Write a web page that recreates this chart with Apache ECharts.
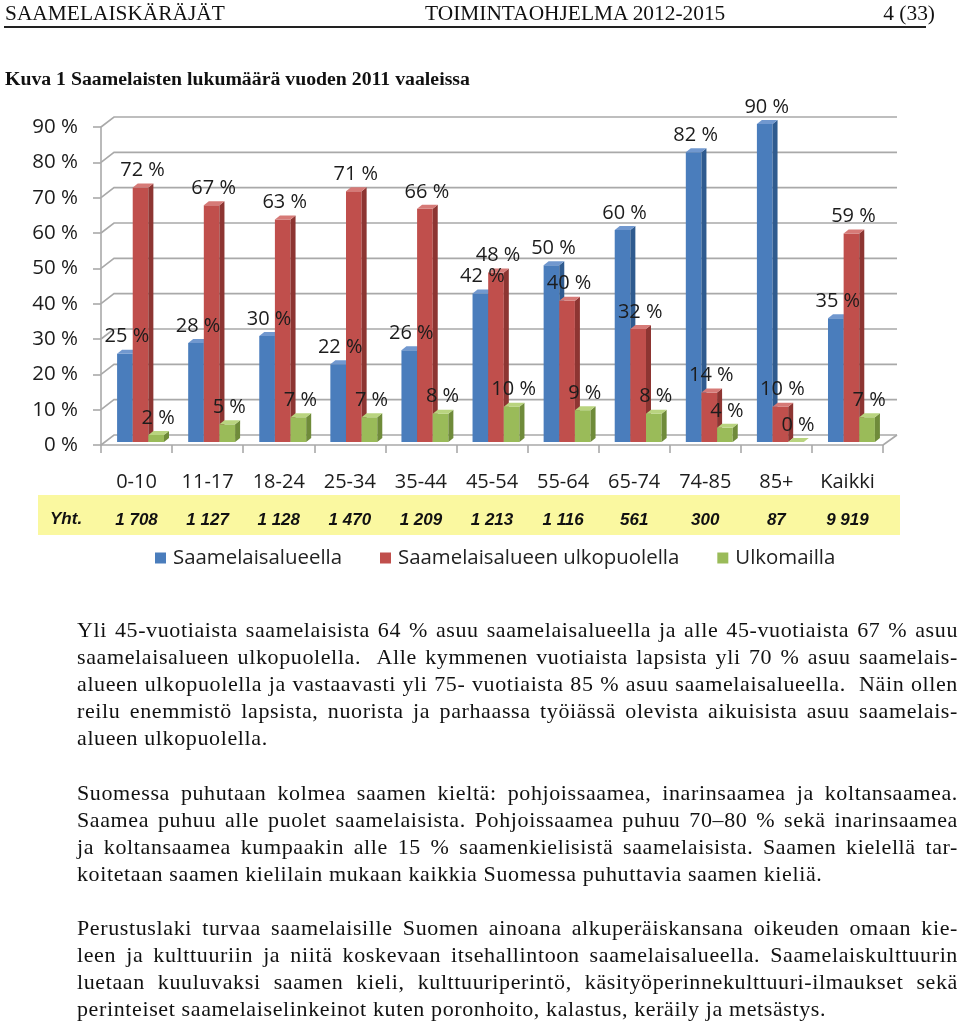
<!DOCTYPE html>
<html>
<head>
<meta charset="utf-8">
<script src="https://cdn.jsdelivr.net/npm/echarts@6/dist/echarts.min.js"></script>
<style>
  html, body { margin: 0; padding: 0; background: #fff; }
  body { width: 960px; height: 1025px; position: relative; overflow: hidden; }
  #chart { position: absolute; left: 0; top: 0; width: 960px; height: 1025px; }
  .t { position: absolute; font-family: "Liberation Serif", "Times New Roman", serif; color: #111; white-space: nowrap; }
  .hdr { font-size: 21.4px; top: 0px; line-height: 26px; }
  .rule { position: absolute; left: 4px; top: 26px; width: 922px; height: 0; border-top: 2px solid #222; }
  .line { position: absolute; left: 77px; width: 881px; height: 27px; line-height: 27px; font-size: 22px; letter-spacing: 0.62px;
          font-family: "Liberation Serif", "Times New Roman", serif; color: #111; text-align: justify; text-align-last: justify; white-space: normal; overflow: visible; }
  .line.last { text-align-last: left; }
</style>
</head>
<body>
<div id="chart"></div>
<div class="t hdr" style="left:5px;">SAAMELAISKÄRÄJÄT</div>
<div class="t hdr" style="left:425px;">TOIMINTAOHJELMA 2012-2015</div>
<div class="t hdr" style="right:25px;">4 (33)</div>
<div class="rule"></div>
<div class="t" style="left:5px; top:66px; font-size:19.8px; font-weight:bold; line-height:24px;">Kuva 1 Saamelaisten lukumäärä vuoden 2011 vaaleissa</div>
<div id="text"></div>
<script>
// ---- data ----
const categories = ['0-10', '11-17', '18-24', '25-34', '35-44', '45-54', '55-64', '65-74', '74-85', '85+', 'Kaikki'];
const totals = ['1 708', '1 127', '1 128', '1 470', '1 209', '1 213', '1 116', '561', '300', '87', '9 919'];
const seriesNames = ['Saamelaisalueella', 'Saamelaisalueen ulkopuolella', 'Ulkomailla'];
const saamelaisalueella = [25, 28, 30, 22, 26, 42, 50, 60, 82, 90, 35];
const ulkopuolella = [72, 67, 63, 71, 66, 48, 40, 32, 14, 10, 59];
const ulkomailla = [2, 5, 7, 7, 8, 10, 9, 8, 4, 0, 7];
const yTicks = [0, 10, 20, 30, 40, 50, 60, 70, 80, 90];

const bodyLines = [
  [629, 'Yli 45-vuotiaista saamelaisista 64 % asuu saamelaisalueella ja alle 45-vuotiaista 67 % asuu', false],
  [656, 'saamelaisalueen ulkopuolella.&nbsp; Alle kymmenen vuotiaista lapsista yli 70 % asuu saamelais-', false],
  [683, 'alueen ulkopuolella ja vastaavasti yli 75- vuotiaista 85 % asuu saamelaisalueella.&nbsp; Näin ollen', false],
  [710, 'reilu enemmistö lapsista, nuorista ja parhaassa työiässä olevista aikuisista asuu saamelais-', false],
  [737, 'alueen ulkopuolella.', true],
  [792, 'Suomessa puhutaan kolmea saamen kieltä: pohjoissaamea, inarinsaamea ja koltansaamea.', false],
  [819, 'Saamea puhuu alle puolet saamelaisista. Pohjoissaamea puhuu 70–80 % sekä inarinsaamea', false],
  [846, 'ja koltansaamea kumpaakin alle 15 % saamenkielisistä saamelaisista. Saamen kielellä tar-', false],
  [873, 'koitetaan saamen kielilain mukaan kaikkia Suomessa puhuttavia saamen kieliä.', true],
  [927, 'Perustuslaki turvaa saamelaisille Suomen ainoana alkuperäiskansana oikeuden omaan kie-', false],
  [954, 'leen ja kulttuuriin ja niitä koskevaan itsehallintoon saamelaisalueella. Saamelaiskulttuurin', false],
  [981, 'luetaan kuuluvaksi saamen kieli, kulttuuriperintö, käsityöperinnekulttuuri-ilmaukset sekä', false],
  [1008, 'perinteiset saamelaiselinkeinot kuten poronhoito, kalastus, keräily ja metsästys.', true]
];
const textBox = document.getElementById('text');
bodyLines.forEach(function (l) {
  const d = document.createElement('div');
  d.className = 'line' + (l[2] ? ' last' : '');
  d.style.top = (l[0] - 13.5) + 'px';
  d.innerHTML = l[1];
  textBox.appendChild(d);
});

// ---- styles ----
const fronts = ['#4a7dbc', '#c04f4c', '#9abb59'];
const sides = ['#2f5b8f', '#8d3532', '#6f8b3a'];
const topsC = ['#7198cf', '#d67a77', '#b9d47f'];
const FONT = '"Open Sans", "Noto Sans", sans-serif';

function barRender(s) {
  return function (params, api) {
    const i = api.value(0), v = api.value(1);
    const band = api.size([1, 0])[0];
    const bw = band * 0.22;
    const c = api.coord([i, v]);
    const b = api.coord([i, 0]);
    const x0 = c[0] + 4 - 1.5 * bw + s * bw;
    const top = c[1] - 3, base = b[1] - 3;
    const dx = 5, dy = 4;
    const children = [
      { type: 'rect', shape: { x: x0, y: top, width: bw, height: base - top }, style: { fill: fronts[s] } },
      { type: 'polygon', shape: { points: [[x0 + bw, top], [x0 + bw + dx, top - dy], [x0 + bw + dx, base - dy], [x0 + bw, base]] }, style: { fill: sides[s] } },
      { type: 'polygon', shape: { points: [[x0, top], [x0 + dx, top - dy], [x0 + bw + dx, top - dy], [x0 + bw, top]] }, style: { fill: topsC[s] } },
      { type: 'text', z2: 100, style: { text: v + ' %', x: x0 + bw / 2 + 2, y: top - 17, align: 'center', verticalAlign: 'middle',
          font: '20px ' + FONT, fill: '#1c1c1c' } }
    ];
    return { type: 'group', children: children };
  };
}

function gridRender(params, api) {
  const v = api.value(1);
  const cs = params.coordSys;
  const y = api.coord([0, v])[1];
  const gx = cs.x, gw = cs.width;
  const st = { stroke: '#a9a9a9', lineWidth: 1.6, fill: null };
  const children = [
    { type: 'polyline', shape: { points: [[gx, y], [gx + 13, y - 10], [gx + gw + 14, y - 10]] }, style: st }
  ];
  if (v === 0) {
    children.push({ type: 'polyline', shape: { points: [[gx + gw, y], [gx + gw + 14, y - 10]] }, style: st });
  }
  return { type: 'group', children: children };
}

const seriesData = [saamelaisalueella, ulkopuolella, ulkomailla];

const chart = echarts.init(document.getElementById('chart'), null, { renderer: 'canvas' });
chart.setOption({
  animation: false,
  color: fronts,
  grid: { left: 101, right: 77, top: 127, bottom: 580, containLabel: false },
  legend: {
    left: 150, top: 543, itemWidth: 11, itemHeight: 11, itemGap: 38, icon: 'rect',
    textStyle: { fontFamily: FONT, fontSize: 20.4, color: '#222', padding: [0, 0, 0, 2] },
    data: seriesNames
  },
  graphic: [
    { type: 'rect', left: 38, top: 495, shape: { width: 862, height: 40 }, style: { fill: '#faf8a0' }, z: 0 },
    { type: 'text', left: 50, top: 511, style: { text: 'Yht.', font: 'italic bold 17px "Liberation Sans", Arial, sans-serif', fill: '#111' }, z: 10 }
  ],
  xAxis: [
    {
      type: 'category', data: categories,
      axisLine: { lineStyle: { color: '#a9a9a9', width: 1.6 } },
      axisTick: { show: true, length: 8, inside: false, interval: 0, lineStyle: { color: '#a9a9a9', width: 1.6 } },
      axisLabel: { interval: 0, hideOverlap: false, margin: 25, fontFamily: FONT, fontSize: 20, color: '#1c1c1c', lineHeight: 24 },
      splitLine: { show: false }
    },
    {
      type: 'category', data: totals, position: 'bottom', offset: 0,
      axisLine: { show: false }, axisTick: { show: false }, splitLine: { show: false },
      axisLabel: { interval: 0, hideOverlap: false, margin: 65, fontFamily: '"Liberation Sans", Arial, sans-serif', fontSize: 17, fontStyle: 'italic', fontWeight: 'bold', color: '#111', lineHeight: 20 }
    }
  ],
  yAxis: {
    type: 'value', min: 0, max: 90, interval: 10,
    axisLine: { show: true, lineStyle: { color: '#a9a9a9', width: 1.6 } },
    axisTick: { show: true, length: 8, lineStyle: { color: '#a9a9a9', width: 1.6 } },
    splitLine: { show: false },
    axisLabel: { margin: 23, formatter: '{value} %', fontFamily: FONT, fontSize: 20.5, color: '#1c1c1c' }
  },
  series: [
    {
      type: 'custom', name: 'grid', silent: true, z: 1, renderItem: gridRender,
      data: yTicks.map(function (v) { return [0, v]; })
    }
  ].concat(seriesNames.map(function (n, s) {
    return {
      type: 'custom', name: n, z: 2, renderItem: barRender(s),
      itemStyle: { color: fronts[s] },
      data: seriesData[s].map(function (v, i) { return [i, v]; })
    };
  }))
});
</script>
</body>
</html>
